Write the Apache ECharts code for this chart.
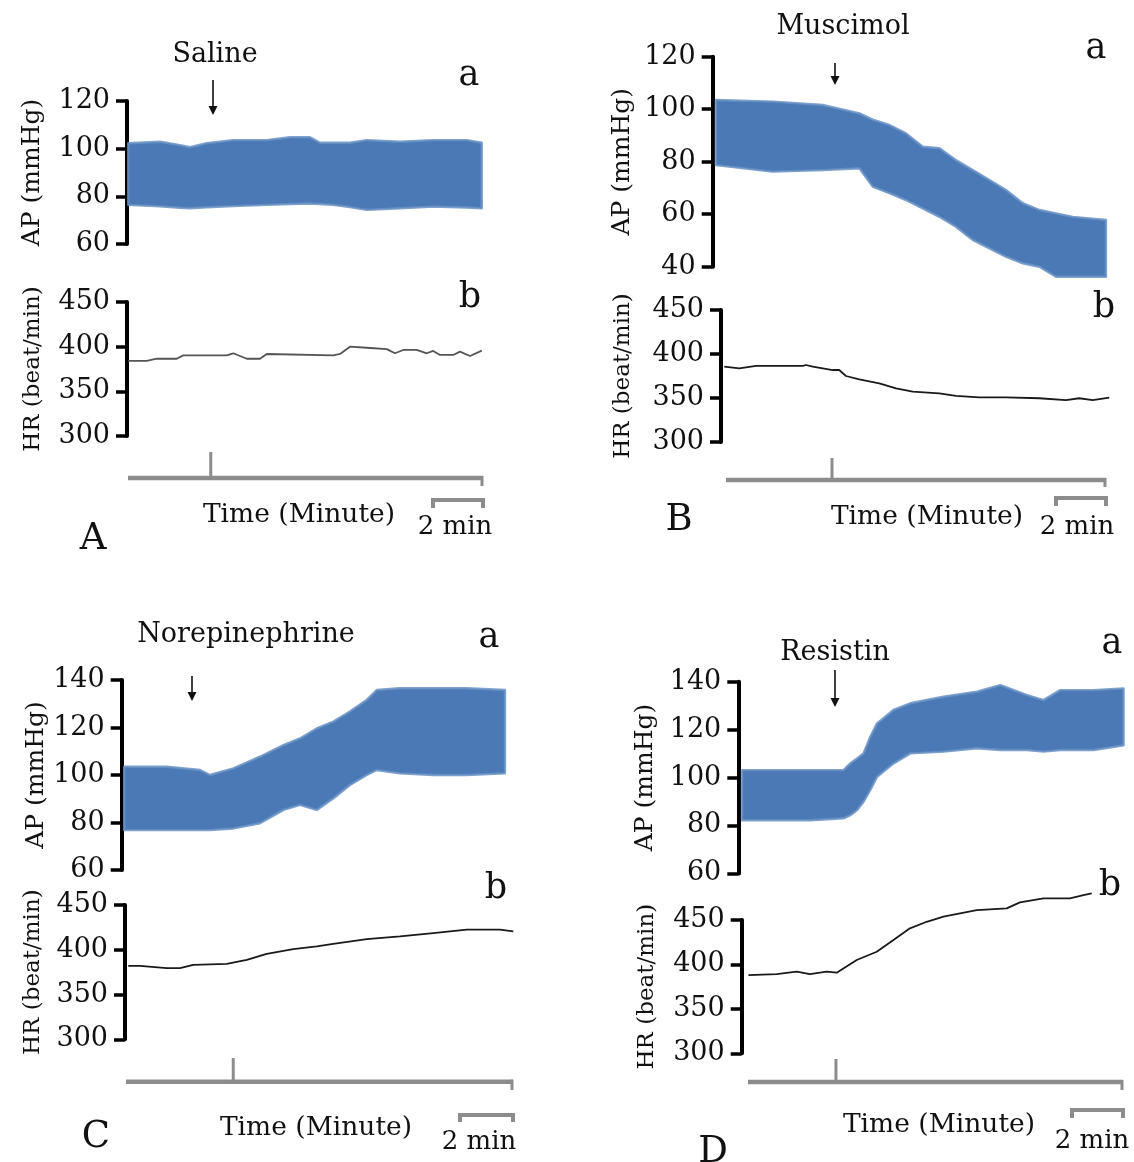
<!DOCTYPE html>
<html>
<head>
<meta charset="utf-8">
<script src="https://cdn.jsdelivr.net/npm/echarts@6/dist/echarts.min.js"></script>
<style>
html,body{margin:0;padding:0;background:#fff;}
#chart{width:1134px;height:1162px;}
</style>
</head>
<body>
<div id="chart"></div>
<script>
// ---------------- DATA (time in minutes) ----------------
// Panel A : Saline
const apA_t  = [0.05,1.32,2.12,2.52,3.19,4.25,5.59,6.52,7.32,7.72,8.25,8.92,9.59,10.92,12.25,13.59,14.19];
const apA_hi = [102.3,102.9,101.5,100.6,102.3,103.6,103.6,104.8,104.8,102.5,102.5,102.5,103.6,102.9,103.6,103.6,102.5];
const apA_lo = [76.4,75.8,75.2,75.0,75.4,75.9,76.4,76.8,77.0,76.8,76.4,75.5,74.3,75.0,75.7,75.3,75.0];
const hrA_t  = [0.05,0.79,1.19,1.99,2.25,3.99,4.25,4.79,5.32,5.59,8.25,8.52,8.92,9.59,10.39,10.72,11.05,11.59,11.99,12.25,12.52,13.05,13.32,13.72,14.19];
const hrA_v  = [384,384,386.5,386.5,390.3,390.3,392.6,386.5,386.5,391.8,390.3,391.8,400,398.8,397.3,392.6,396.3,396.3,392.6,395.2,390.7,390.7,394.4,389.6,395.6];

// Panel B : Muscimol
const apB_t  = [0.13,2.4,4.4,5.87,6.4,7.07,7.73,8.4,9.07,9.73,10.4,11.07,11.73,12.4,13.07,13.73,14.4,15.73];
const apB_hi = [103.5,102.9,101.6,98.4,96.0,94.0,90.8,85.7,85.1,80.6,76.8,73.0,69.2,64.2,61.6,60.3,59.0,57.8];
const apB_lo = [78.7,76.2,76.8,77.5,70.5,68.0,65.4,62.2,59.0,55.2,50.2,47.0,43.8,41.3,40.0,36.2,36.2,36.2];
const hrB_t  = [0.13,0.73,1.4,2.07,3.27,3.4,3.67,4.47,4.73,5.0,5.53,6.33,7.0,7.67,8.73,9.4,10.33,11.4,12.73,13.8,14.33,14.87,15.53];
const hrB_v  = [385.6,383.7,386.4,386.4,386.4,387.5,385.6,381.8,381.8,375,371.2,366.7,361,357.2,355.3,352.3,350.8,350.8,349.7,347.7,349.7,347.7,350.4];

// Panel C : Norepinephrine
const apC_t  = [0.1,1.8,3.13,3.53,4.47,5.53,6.47,7.13,7.8,8.47,9.13,9.8,10.2,11.13,12.47,13.8,15.33];
const apC_hi = [103.5,103.5,102.1,100,102.8,107.7,112.6,115.4,119.6,122.5,126.7,131.6,135.8,136.5,136.5,136.5,135.8];
const apC_lo = [76.8,76.8,76.8,76.8,77.5,79.7,85.3,87.4,85.3,90.2,95.8,100,102.1,100.7,100,100,100.7];
const hrC_t  = [0.13,0.6,1.67,2.2,2.73,4.07,4.87,5.67,6.73,7.67,8.33,9.67,11.0,12.33,13.67,15.0,15.53];
const hrC_v  = [382.1,382.1,379.5,379.5,383.2,384.3,388.8,395.5,400.8,403.7,406.7,412,414.9,418.7,422.4,422.4,420.5];

// Panel D : Resistin
const apD_t  = [0.15,1.55,2.88,4.21,4.48,4.75,5.01,5.28,5.55,6.21,6.88,8.21,9.55,10.48,11.55,12.21,12.88,14.21,15.41];
const apD_hi = [103.1,103.1,103.1,103.1,105.9,108,110.1,117,122.6,128.2,131,133.7,135.8,138.6,134.4,132.3,136.5,136.5,137.2];
const apD_lo = [82.2,82.2,82.2,83,84.3,86.4,89.9,94.8,100.3,105.9,110.1,110.8,112.2,111.5,111.5,110.8,111.5,111.5,113.5];
const hrD_t  = [0.27,1.4,2.2,2.73,3.4,3.8,4.6,5.4,6.07,6.73,7.4,8.07,9.4,10.6,11.13,12.07,13.13,13.67,14.0];
const hrD_v  = [388,389.2,391.8,389.2,391.8,390.7,405,414.3,427.5,440.6,448,453.7,461.2,463.1,469.8,474.4,474.4,478,480];

// drug names, injection time (min, on the HR time scale), axis ranges
const drugs        = ['Saline','Muscimol','Norepinephrine','Resistin'];
const panelLetters = ['A','B','C','D'];
const injection    = [3.35, 4.44, 4.33, 3.77];
const apRanges     = [[60,120],[40,120],[60,140],[60,140]];
const hrRange      = [300,450];
const scaleBarText = '2 min';
const timeLabel    = 'Time (Minute)';

// ---------------- LAYOUT (pixels) ----------------
const FONT = 'DejaVu Serif';
const PX_PER_MIN = 25;
const layout = [
  { ap:{l:127,t:101,r:482,h:143,gap:82}, hr:{l:127,t:302,r:483,h:134,gap:82},
    time:{y:478,x1:128,x2:483,tickTop:452,endDown:486}, bar:{y:500,x1:433,x2:483,down:508},
    arrow:{x:213,y1:80,y2:115}, drug:[215,55], a:[469,76], b:[470,298], tl:[299,515], sb:[455,527], L:[93,539] },
  { ap:{l:712.7,t:56.7,r:1106,h:210,gap:78}, hr:{l:721,t:310,r:1110,h:132,gap:86},
    time:{y:480,x1:726,x2:1106,tickTop:458,endDown:487}, bar:{y:498,x1:1056,x2:1106,down:506},
    arrow:{x:835,y1:63,y2:85}, drug:[843,27], a:[1096,49], b:[1104,308], tl:[927,517], sb:[1077,527], L:[679,520] },
  { ap:{l:121.7,t:680,r:505,h:190,gap:71}, hr:{l:125,t:905,r:514,h:134.3,gap:80},
    time:{y:1081.7,x1:126,x2:513,tickTop:1058,endDown:1090}, bar:{y:1115,x1:460,x2:513,down:1122},
    arrow:{x:192,y1:676,y2:701}, drug:[246,635], a:[489,638], b:[496,889], tl:[316,1128], sb:[479,1142], L:[96,1137] },
  { ap:{l:738.3,t:681.7,r:1124,h:191.7,gap:80}, hr:{l:741.7,t:920,r:1092,h:133.3,gap:83},
    time:{y:1082,x1:748,x2:1123,tickTop:1059,endDown:1090}, bar:{y:1110,x1:1072,x2:1123,down:1118},
    arrow:{x:835,y1:670,y2:707}, drug:[835,653], a:[1112,644], b:[1110,886], tl:[939,1125], sb:[1092,1141], L:[713,1152] }
];

const apData = [[apA_t,apA_lo,apA_hi],[apB_t,apB_lo,apB_hi],[apC_t,apC_lo,apC_hi],[apD_t,apD_lo,apD_hi]];
const hrData = [[hrA_t,hrA_v],[hrB_t,hrB_v],[hrC_t,hrC_v],[hrD_t,hrD_v]];
const hrColors = ['#555555','#1a1a1a','#1a1a1a','#1a1a1a'];
const BAND_FILL = '#4a79b6';
const BAND_EDGE = 'rgba(104,144,196,0.85)';
const TIME_GREY = '#8c8c8c';
const TEXT = '#111';

function yAxisCfg(gridIndex, min, max, interval, name, gap, nameSize){
  return {
    gridIndex, type:'value', min, max, interval,
    name, nameLocation:'middle', nameRotate:90, nameGap:gap,
    nameTextStyle:{fontFamily:FONT, fontSize:nameSize, color:TEXT},
    axisLine:{show:true, lineStyle:{color:'#000', width:4}},
    axisTick:{show:true, length:11, lineStyle:{color:'#000', width:3.5}},
    axisLabel:{fontFamily:FONT, fontSize:27, color:TEXT, margin:17},
    splitLine:{show:false}
  };
}

const grids=[], xAxes=[], yAxes=[], series=[];
layout.forEach((L, p) => {
  // AP grid
  const gAP = grids.length;
  grids.push({left:L.ap.l, top:L.ap.t, width:L.ap.r-L.ap.l, height:L.ap.h, containLabel:false});
  xAxes.push({gridIndex:gAP, type:'value', min:0, max:(L.ap.r-L.ap.l)/PX_PER_MIN, show:false});
  yAxes.push(yAxisCfg(gAP, apRanges[p][0], apRanges[p][1], 20, 'AP (mmHg)', L.ap.gap, 25));
  const [t, lo, hi] = apData[p];
  series.push({
    type:'custom', xAxisIndex:gAP, yAxisIndex:gAP, silent:true, clip:false,
    data: t.map((x,i)=>[x, lo[i], hi[i]]),
    encode:{x:0, y:[1,2]},
    renderItem:(params, api) => {
      if (params.dataIndex !== 0) return null;
      const top = t.map((x,i)=>api.coord([x, hi[i]]));
      const bot = t.map((x,i)=>api.coord([x, lo[i]])).reverse();
      return {type:'polygon', shape:{points: top.concat(bot)},
              style:{fill:BAND_FILL, stroke:BAND_EDGE, lineWidth:2.4, lineJoin:'round'}};
    }
  });
  // HR grid
  const gHR = grids.length;
  grids.push({left:L.hr.l, top:L.hr.t, width:L.hr.r-L.hr.l, height:L.hr.h, containLabel:false});
  xAxes.push({gridIndex:gHR, type:'value', min:0, max:(L.hr.r-L.hr.l)/PX_PER_MIN, show:false});
  yAxes.push(yAxisCfg(gHR, hrRange[0], hrRange[1], 50, 'HR (beat/min)', L.hr.gap, 23));
  const [ht, hv] = hrData[p];
  series.push({
    type:'line', xAxisIndex:gHR, yAxisIndex:gHR, clip:false, showSymbol:false, silent:true,
    data: ht.map((x,i)=>[x, hv[i]]),
    lineStyle:{color:hrColors[p], width:1.8}
  });
});

const chart = echarts.init(document.getElementById('chart'), null, {renderer:'canvas'});
chart.setOption({
  animation:false, backgroundColor:'#fff',
  grid:grids, xAxis:xAxes, yAxis:yAxes, series
});

// ---------------- decorations ----------------
const g = [];
function txt(pos, text, size){
  g.push({type:'text', x:pos[0], y:pos[1], silent:true,
          style:{text, font:`${size}px "${FONT}"`, fill:TEXT, align:'center', verticalAlign:'middle'}});
}
function line(x1,y1,x2,y2,color,w){
  g.push({type:'line', silent:true, shape:{x1,y1,x2,y2}, style:{stroke:color, lineWidth:w}});
}
layout.forEach((L, p) => {
  const T = L.time;
  // time axis
  line(T.x1, T.y, T.x2, T.y, TIME_GREY, 4.5);
  line(T.x2-1, T.y-2, T.x2-1, T.endDown, TIME_GREY, 3);
  const injX = chart.convertToPixel({xAxisIndex:p*2+1}, injection[p]);
  line(injX, T.tickTop, injX, T.y, TIME_GREY, 3);
  // scale bar
  const B = L.bar;
  g.push({type:'polyline', silent:true,
          shape:{points:[[B.x1,B.down],[B.x1,B.y],[B.x2,B.y],[B.x2,B.down]]},
          style:{stroke:TIME_GREY, lineWidth:4, fill:null}});
  // injection arrow
  const A = L.arrow;
  line(A.x, A.y1, A.x, A.y2-6, '#111', 1.6);
  g.push({type:'polygon', silent:true,
          shape:{points:[[A.x-4.5,A.y2-9],[A.x+4.5,A.y2-9],[A.x,A.y2]]},
          style:{fill:'#111'}});
  // texts
  txt(L.drug, drugs[p], 27);
  txt(L.a, 'a', 35);
  txt(L.b, 'b', 35);
  txt(L.tl, timeLabel, 26.5);
  txt(L.sb, scaleBarText, 26);
  txt(L.L, panelLetters[p], 37);
});
chart.setOption({graphic: g});
</script>
</body>
</html>
